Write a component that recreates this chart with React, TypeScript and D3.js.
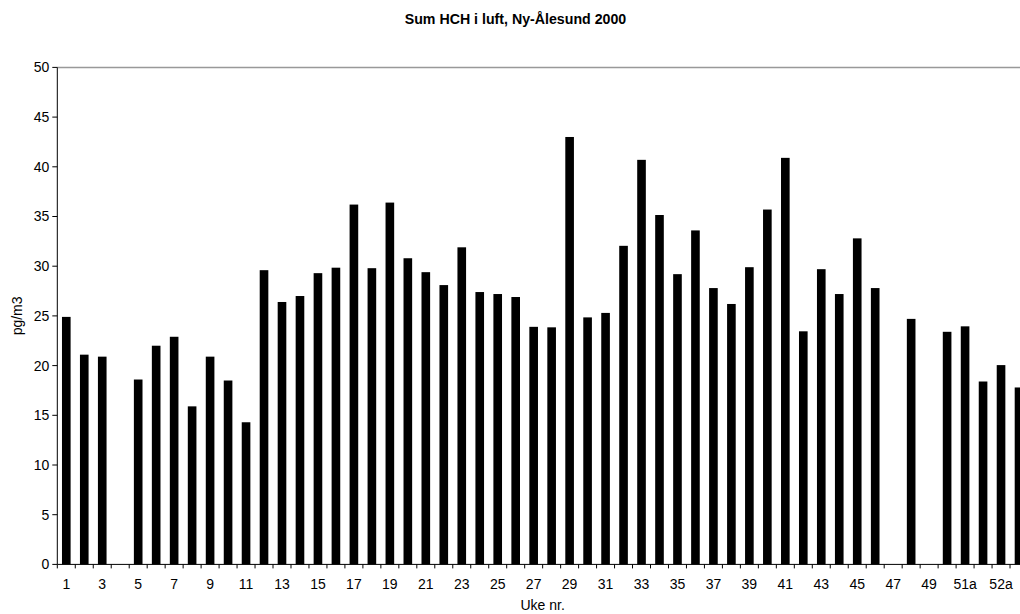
import React from "react";
import * as d3 from "d3";

const categories: string[] = [
  "1","2","3","4","5","6","7","8","9","10",
  "11","12","13","14","15","16","17","18","19","20",
  "21","22","23","24","25","26","27","28","29","30",
  "31","32","33","34","35","36","37","38","39","40",
  "41","42","43","44","45","46","47","48","49","50",
  "51a","51b","52a","52b",
];

const values: (number | null)[] = [
  24.9, 21.1, 20.9, null, 18.6, 22.0, 22.9, 15.9, 20.9, 18.5,
  14.3, 29.6, 26.4, 27.0, 29.3, 29.85, 36.2, 29.8, 36.4, 30.8,
  29.4, 28.1, 31.9, 27.4, 27.2, 26.9, 23.9, 23.85, 43.0, 24.85,
  25.3, 32.05, 40.7, 35.15, 29.2, 33.6, 27.8, 26.2, 29.9, 35.7,
  40.9, 23.45, 29.7, 27.2, 32.8, 27.8, null, 24.7, null, 23.4,
  23.95, 18.4, 20.05, 17.8,
];

const yTicks: number[] = [0, 5, 10, 15, 20, 25, 30, 35, 40, 45, 50];

const title = "Sum HCH i luft, Ny-Ålesund 2000";
const xTitle = "Uke nr.";
const yTitle = "pg/m3";

export default function App() {
  const W = 1020;
  const H = 614;
  const left = 57.3;
  const right = 1028;
  const top = 67.4;
  const bottom = 564.4;

  const x = d3
    .scaleBand<string>()
    .domain(categories)
    .range([left, right])
    .paddingInner(0.52)
    .paddingOuter(0.26);
  const step = (right - left) / categories.length;
  const y = d3.scaleLinear().domain([0, 50]).range([bottom, top]);

  const font = "'Liberation Sans', Arial, sans-serif";
  const fs = 14;

  return (
    <svg
      width={W}
      height={H}
      viewBox={`0 0 ${W} ${H}`}
      style={{ position: "absolute", left: 0, top: 0, background: "#fff" }}
      fontFamily={font}
    >
      <rect x={0} y={0} width={W} height={H} fill="#fff" />
      <text x={515.5} y={24} textAnchor="middle" fontSize={14.2} fontWeight="bold" fill="#000">
        {title}
      </text>

      {/* top border line at 50 */}
      <line x1={left} x2={right} y1={y(50)} y2={y(50)} stroke="#999" strokeWidth={1.5} />

      {/* bars */}
      {categories.map((c, i) => {
        const v = values[i];
        if (v == null) return null;
        return (
          <rect
            key={c}
            x={x(c)}
            y={y(v)}
            width={x.bandwidth()}
            height={y(0) - y(v)}
            fill="#000"
          />
        );
      })}

      {/* y axis */}
      <line x1={left} x2={left} y1={top} y2={bottom} stroke="#000" strokeWidth={1} />
      {yTicks.map((t) => (
        <g key={t}>
          <line x1={left - 5} x2={left} y1={y(t)} y2={y(t)} stroke="#000" strokeWidth={1} />
          <text x={left - 8} y={y(t)} dy="0.35em" textAnchor="end" fontSize={fs} fill="#000">
            {t}
          </text>
        </g>
      ))}
      <text
        transform={`translate(17,${(top + bottom) / 2}) rotate(-90)`}
        textAnchor="middle"
        dy="0.35em"
        fontSize={fs}
        fill="#000"
      >
        {yTitle}
      </text>

      {/* x axis */}
      <line x1={left} x2={right} y1={bottom} y2={bottom} stroke="#000" strokeWidth={1} />
      {d3.range(categories.length + 1).map((i) => (
        <line
          key={"t" + i}
          x1={left + i * step}
          x2={left + i * step}
          y1={bottom}
          y2={bottom + 4}
          stroke="#000"
          strokeWidth={1}
        />
      ))}
      {categories.map((c, i) =>
        i % 2 === 0 ? (
          <text
            key={"l" + c}
            x={(x(c) as number) + x.bandwidth() / 2}
            y={589}
            textAnchor="middle"
            fontSize={fs}
            fill="#000"
          >
            {c}
          </text>
        ) : null
      )}
      <text x={(left + right) / 2} y={610} textAnchor="middle" fontSize={fs} fill="#000">
        {xTitle}
      </text>
    </svg>
  );
}
